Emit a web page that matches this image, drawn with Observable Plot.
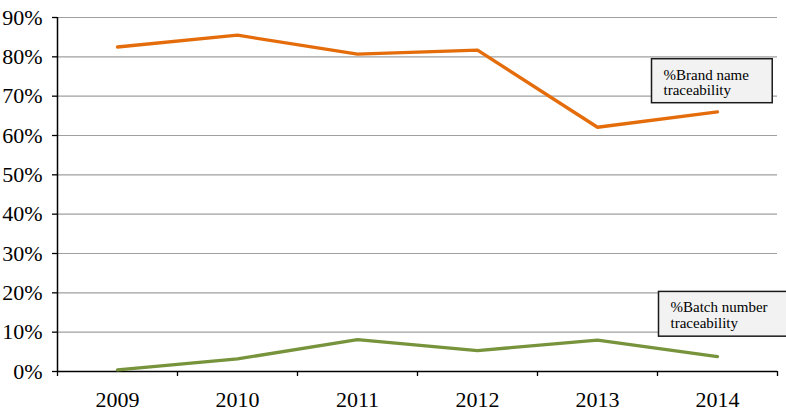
<!DOCTYPE html>
<html><head><meta charset="utf-8">
<script src="https://cdn.jsdelivr.net/npm/d3@7"></script>
<script src="https://cdn.jsdelivr.net/npm/@observablehq/plot@0.6"></script>
<style>
body{margin:0;background:#fff}
</style>
</head><body><div id="chart"></div>
<script>
// Data
const years = [2009, 2010, 2011, 2012, 2013, 2014];
const brandName = [0.825, 0.855, 0.807, 0.817, 0.621, 0.660];
const batchNumber = [0.004, 0.032, 0.081, 0.053, 0.080, 0.038];
const yTicks = [0, 0.1, 0.2, 0.3, 0.4, 0.5, 0.6, 0.7, 0.8, 0.9];
const seriesNames = ["%Brand name traceability", "%Batch number traceability"];
const labelTexts = ["%Brand name\ntraceability", "%Batch number\ntraceability"];
const labelYear = [2014, 2014];
const labelValue = [0.735, 0.143];
const colors = ["#E46C0A", "#77933C"];

const rows = [
  ...years.map((y, i) => ({year: y, value: brandName[i], series: seriesNames[0]})),
  ...years.map((y, i) => ({year: y, value: batchNumber[i], series: seriesNames[1]}))
];
const boundaries = [years[0] - 0.5, ...years.map(y => y + 0.5)];
const labels = labelTexts.map((t, i) => ({text: t, year: labelYear[i], value: labelValue[i]}));
const serif = "Liberation Serif";

const chart = Plot.plot({
  width: 786,
  height: 412,
  marginLeft: 57,
  marginRight: 9,
  marginTop: 17,
  marginBottom: 41,
  style: {fontFamily: serif, color: "black", background: "white"},
  x: {type: "linear", domain: [boundaries[0], boundaries[boundaries.length - 1]]},
  y: {domain: [0, 0.9]},
  color: {domain: seriesNames, range: colors},
  marks: [
    Plot.ruleY(yTicks.slice(1), {stroke: "#a0a0a0", strokeWidth: 1.2}),
    Plot.axisY({ticks: yTicks, tickFormat: d3.format(".0%"), tickSize: 5, tickPadding: 10, fontSize: 22, fontFamily: serif, label: null, strokeWidth: 1.3}),
    Plot.axisX({ticks: years, tickSize: 0, tickPadding: 20, tickFormat: d => String(d), fontSize: 22, fontFamily: serif, label: null}),
    Plot.axisX({ticks: boundaries, tickSize: 5, tickFormat: () => "", label: null, strokeWidth: 1.3}),
    Plot.ruleY([0], {stroke: "black", strokeWidth: 1.5}),
    Plot.ruleX([boundaries[0]], {stroke: "black", strokeWidth: 1.5}),
    Plot.line(rows, {x: "year", y: "value", stroke: "series", strokeWidth: 3.3}),
    Plot.text(labels.slice(0, 1), {x: "year", y: "value", text: "text", textAnchor: "start", dx: -54, fontSize: 15, fontFamily: serif, lineHeight: 1.0, fill: "black", className: "series-label"}),
    Plot.text(labels.slice(1), {x: "year", y: "value", text: "text", textAnchor: "start", dx: -47, fontSize: 15, fontFamily: serif, lineHeight: 1.05, fill: "black", className: "series-label"})
  ]
});
document.getElementById("chart").appendChild(chart);

// Draw boxes behind label texts
chart.querySelectorAll("g.series-label text").forEach((t) => {
  const b = t.getBBox();
  const padL = 12, padR = 23, padT = 8, padB = 5;
  const ns = "http://www.w3.org/2000/svg";
  const r = document.createElementNS(ns, "rect");
  let tx = 0, ty = 0;
  const tr = t.getAttribute("transform");
  if (tr) {
    const m = tr.match(/translate\(([-\d.]+),\s*([-\d.]+)\)/);
    if (m) { tx = +m[1]; ty = +m[2]; }
  }
  r.setAttribute("x", b.x + tx - padL);
  r.setAttribute("y", b.y + ty - padT);
  r.setAttribute("width", b.width + padL + padR);
  r.setAttribute("height", b.height + padT + padB);
  r.setAttribute("fill", "#f2f2f2");
  r.setAttribute("stroke", "#1a1a1a");
  r.setAttribute("stroke-width", "1.5");
  t.parentNode.insertBefore(r, t);
});
</script>
</body></html>
